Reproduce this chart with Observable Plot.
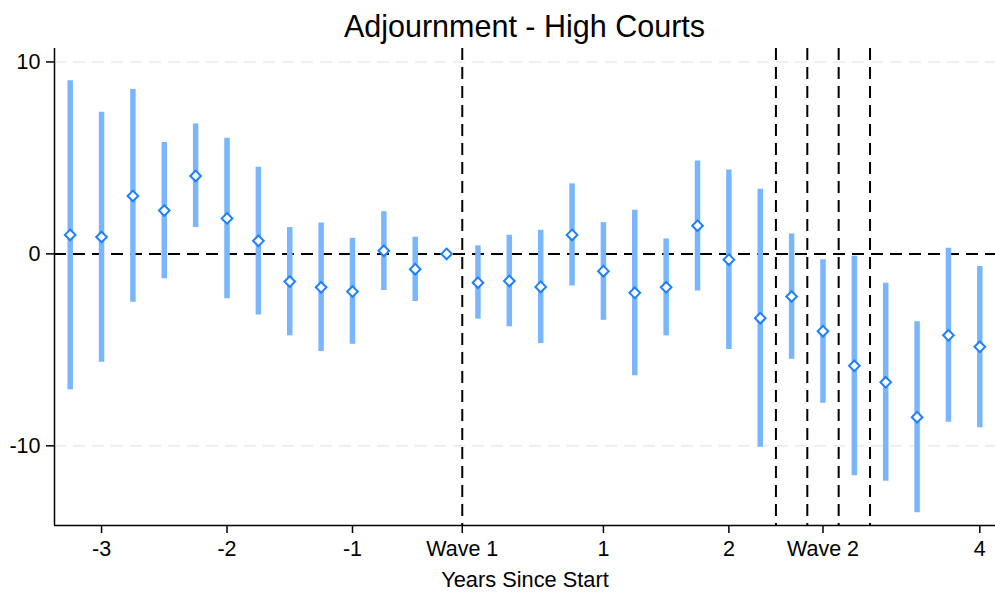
<!DOCTYPE html>
<html>
<head>
<meta charset="utf-8">
<script src="https://cdn.jsdelivr.net/npm/d3@7"></script>
<script src="https://cdn.jsdelivr.net/npm/@observablehq/plot@0.6"></script>
<style>
  html, body { margin: 0; padding: 0; background: #fff; }
  body { font-family: "Liberation Sans", Arial, Helvetica, sans-serif; width: 995px; }
  #title {
    box-sizing: border-box; height: 46px; padding-top: 11px; padding-left: 54px;
    width: 995px; text-align: center; font-size: 30.5px; line-height: 30px; color: #000;
  }
  #chart svg { display: block; }
</style>
</head>
<body>
<div id="title">Adjournment - High Courts</div>
<div id="chart"></div>
<script>
// Event time (years since start, quarterly)
const period = [-3.25, -3.0, -2.75, -2.5, -2.25, -2.0, -1.75, -1.5, -1.25, -1.0, -0.75, -0.5, -0.25,
                0.0, 0.25, 0.5, 0.75, 1.0, 1.25, 1.5, 1.75, 2.0, 2.25, 2.5, 2.75, 3.0, 3.25, 3.5, 3.75, 4.0];
// Point estimates
const estimate = [0.99, 0.88, 3.02, 2.26, 4.06, 1.85, 0.68, -1.44, -1.74, -1.96, 0.16, -0.80, 0.00,
                  -1.50, -1.41, -1.72, 0.99, -0.90, -2.03, -1.74, 1.47, -0.30, -3.35, -2.22, -4.03, -5.83, -6.69, -8.51, -4.24, -4.84];
// Confidence interval bounds (null = reference period, no interval)
const ciLow = [-7.08, -5.65, -2.52, -1.30, 1.37, -2.34, -3.18, -4.27, -5.09, -4.71, -1.91, -2.48, null,
               -3.40, -3.80, -4.67, -1.67, -3.46, -6.35, -4.27, -1.93, -4.98, -10.07, -5.49, -7.78, -11.56, -11.84, -13.49, -8.77, -9.06];
const ciHigh = [9.02, 7.38, 8.56, 5.80, 6.77, 6.02, 4.51, 1.37, 1.61, 0.81, 2.20, 0.87, null,
                0.42, 0.97, 1.23, 3.65, 1.63, 2.27, 0.78, 4.84, 4.37, 3.37, 1.04, -0.31, -0.12, -1.53, -3.53, 0.29, -0.66];

// Axis ticks and wave markers
const xTickValues = [-3, -2, -1, -0.125, 1, 2, 2.75, 4];
const xTickLabels = ["-3", "-2", "-1", "Wave 1", "1", "2", "Wave 2", "4"];
const yTickValues = [-10, 0, 10];
const gridValues = [-10, 10];
const waveLines = [-0.125, 2.375, 2.625, 2.875, 3.125];
const xDomain = [-3.375, 4.125];
const yDomain = [-14.15, 10.7];

const data = period.map((p, i) => ({p, est: estimate[i], lo: ciLow[i], hi: ciHigh[i]}));
const ciData = data.filter(d => d.lo != null && d.hi != null);
const labelOf = new Map(xTickValues.map((v, i) => [v, xTickLabels[i]]));

const dash = "12,7";
const chart = Plot.plot({
  width: 995,
  height: 546,
  marginTop: 2,
  marginBottom: 67,
  marginLeft: 54,
  marginRight: 0,
  style: {fontFamily: "'Liberation Sans', Arial, Helvetica, sans-serif", color: "#000", background: "#fff"},
  x: {domain: xDomain},
  y: {domain: yDomain},
  marks: [
    Plot.ruleY(gridValues, {stroke: "#eaeaea", strokeWidth: 1.5, strokeDasharray: dash}),
    Plot.ruleY([0], {stroke: "#000", strokeWidth: 2, strokeDasharray: dash}),
    Plot.ruleX(waveLines, {stroke: "#000", strokeWidth: 2, strokeDasharray: dash}),
    Plot.ruleX(ciData, {x: "p", y1: "lo", y2: "hi", stroke: "#79b6fd", strokeWidth: 5.5}),
    Plot.dot(data, {x: "p", y: "est", symbol: "diamond2", r: 4.8, fill: "#fff", stroke: "#1c80ff", strokeWidth: 2}),
    Plot.ruleX([xDomain[0]], {stroke: "#000", strokeWidth: 1.5}),
    Plot.ruleY([yDomain[0]], {stroke: "#000", strokeWidth: 1.5}),
    Plot.axisX({ticks: xTickValues, tickFormat: v => labelOf.get(v), tickSize: 8, tickPadding: 7, fontSize: 21.5, label: null, strokeWidth: 1.5}),
    Plot.axisY({ticks: yTickValues, tickFormat: d => String(d), tickSize: 8, tickPadding: 6, fontSize: 21.5, label: null, strokeWidth: 1.5}),
    Plot.text(["Years Since Start"], {text: d => d, frameAnchor: "bottom", dy: 55, fontSize: 21.8, lineAnchor: "middle", fill: "#000"})
  ]
});
document.getElementById("chart").appendChild(chart);
</script>
</body>
</html>
